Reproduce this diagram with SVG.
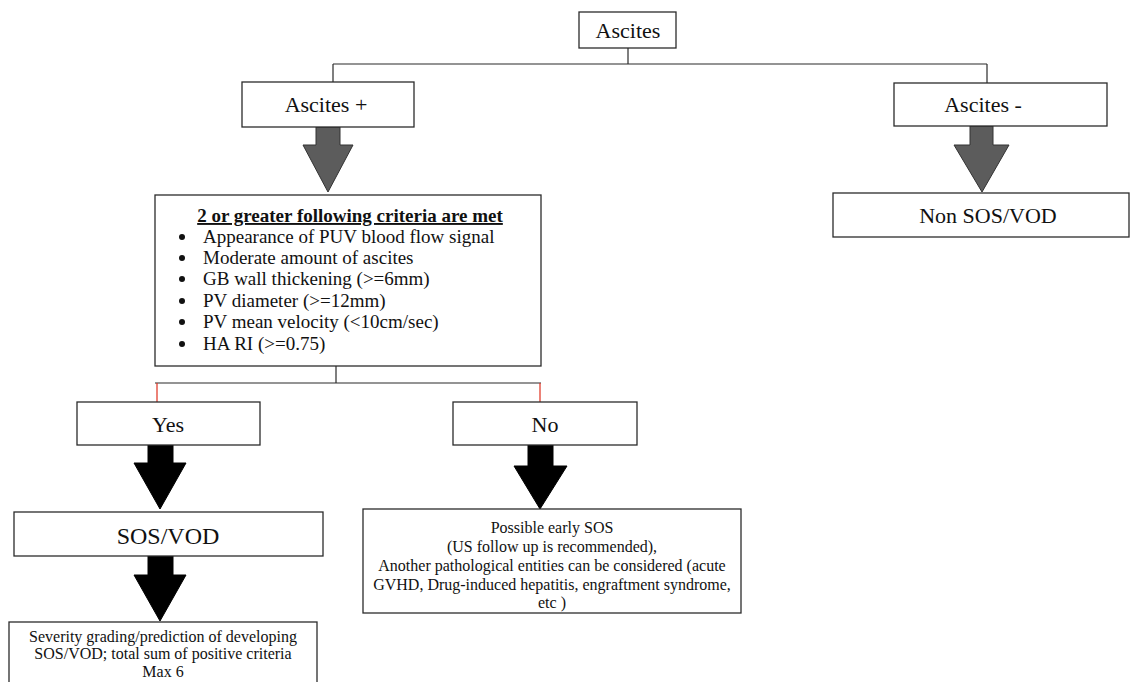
<svg xmlns="http://www.w3.org/2000/svg" width="1130" height="682" viewBox="0 0 1130 682">
<style>
.box{fill:#fff;stroke:#2b2b2b;stroke-width:1.3}
.ln{stroke:#2b2b2b;stroke-width:1.2;fill:none}
.red{stroke:#e0301e;stroke-width:1.2;fill:none}
.garrow{fill:#5c5c5c;stroke:#333;stroke-width:1}
.barrow{fill:#000;stroke:#000;stroke-width:1}
text{font-family:"Liberation Serif","Times New Roman",serif;fill:#111}
.c{text-anchor:middle}
.big{font-size:22px}
.crit{font-size:19px}
.small{font-size:16px}
.dot{fill:#111}
</style>
<rect width="1130" height="682" fill="#fff"/>
<g id="connectors">
<path class="ln" d="M628 48V64M333 64H987M333 64V82M987 64V83"/>
<path class="ln" d="M336 366V383M155 383H541"/>
<path class="red" d="M157 383V402M540 383V402"/>
<path class="garrow" d="M316 127H340V145H353L328 192L303 145H316Z"/>
<path class="garrow" d="M970 126H993V145H1009L982 192L954 145H970Z"/>
<path class="barrow" d="M148 445H173V463H186L160 509L134 463H148Z"/>
<path class="barrow" d="M148 556H173V575H186L160 621L134 575H148Z"/>
<path class="barrow" d="M528 445H553V466H567L540 509L514 466H528Z"/>
</g>
<g id="ascites">
<rect class="box" x="579" y="12" width="97" height="36"/>
<text class="c big" x="628" y="38">Ascites</text>
</g>
<g id="ascites-pos">
<rect class="box" x="242" y="82" width="172" height="45"/>
<text class="c big" x="326" y="112">Ascites +</text>
</g>
<g id="ascites-neg">
<rect class="box" x="894" y="83" width="213" height="43"/>
<text class="c big" x="983" y="112">Ascites -</text>
</g>
<g id="non-sos">
<rect class="box" x="833" y="193" width="296" height="44"/>
<text class="c big" x="988" y="223">Non SOS/VOD</text>
</g>
<g id="criteria">
<rect class="box" x="155" y="195" width="386" height="171"/>
<text class="c crit" x="350" y="222" font-weight="bold" text-decoration="underline">2 or greater following criteria are met</text>
<circle class="dot" cx="182" cy="237" r="3"/><text class="crit" x="203" y="243">Appearance of PUV blood flow signal</text>
<circle class="dot" cx="182" cy="258" r="3"/><text class="crit" x="203" y="264">Moderate amount of ascites</text>
<circle class="dot" cx="182" cy="279" r="3"/><text class="crit" x="203" y="285">GB wall thickening (&gt;=6mm)</text>
<circle class="dot" cx="182" cy="301" r="3"/><text class="crit" x="203" y="307">PV diameter (&gt;=12mm)</text>
<circle class="dot" cx="182" cy="322" r="3"/><text class="crit" x="203" y="328">PV mean velocity (&lt;10cm/sec)</text>
<circle class="dot" cx="182" cy="344" r="3"/><text class="crit" x="203" y="350">HA RI (&gt;=0.75)</text>
</g>
<g id="yes">
<rect class="box" x="77" y="402" width="183" height="43"/>
<text class="c big" x="168" y="432">Yes</text>
</g>
<g id="no">
<rect class="box" x="453" y="402" width="184" height="43"/>
<text class="c big" x="545" y="432">No</text>
</g>
<g id="sos">
<rect class="box" x="14" y="512" width="309" height="44"/>
<text class="c" x="168" y="544" font-size="24">SOS/VOD</text>
</g>
<g id="severity">
<rect class="box" x="9" y="622" width="308" height="70"/>
<text class="c small" x="163" y="642">Severity grading/prediction of developing</text>
<text class="c small" x="163" y="659">SOS/VOD; total sum of positive criteria</text>
<text class="c small" x="163" y="677">Max 6</text>
</g>
<g id="possible">
<rect class="box" x="363" y="509" width="378" height="104"/>
<text class="c small" x="552" y="533">Possible early SOS</text>
<text class="c small" x="552" y="552">(US follow up is recommended),</text>
<text class="c small" x="552" y="571">Another pathological entities can be considered (acute</text>
<text class="c small" x="552" y="590">GVHD, Drug-induced hepatitis, engraftment syndrome,</text>
<text class="c small" x="552" y="608">etc )</text>
</g>
</svg>
